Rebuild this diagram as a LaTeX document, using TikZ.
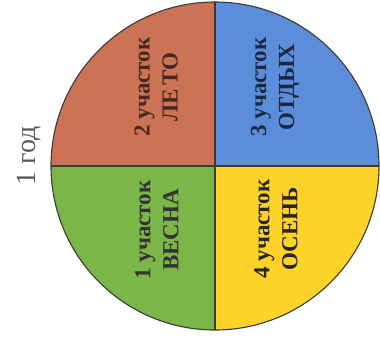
\documentclass[tikz,border=0pt]{standalone}
\usepackage{fontspec}
\setmainfont{Liberation Serif}
\definecolor{qred}{HTML}{CC7355}
\definecolor{qblue}{HTML}{5B8DDB}
\definecolor{qgreen}{HTML}{7AB648}
\definecolor{qyellow}{HTML}{FDD32A}
\definecolor{edge}{HTML}{3A3A36}
\begin{document}
\begin{tikzpicture}[x=1pt,y=-1pt,
  quad/.style={draw=edge,line width=1.1pt},
  qlabel/.style={rotate=90,align=center,font=\fontsize{23}{28}\selectfont\bfseries,inner sep=0pt}]
\useasboundingbox (0,0) rectangle (380,340);
\coordinate (c) at (215,166);
\fill[qred] (c) -- (51,166) arc[start angle=180,end angle=270,radius=164] -- cycle;
\fill[qblue] (c) -- (215,2) arc[start angle=270,end angle=360,radius=164] -- cycle;
\fill[qgreen] (c) -- (51,166) arc[start angle=180,end angle=90,radius=164] -- cycle;
\fill[qyellow] (c) -- (379,166) arc[start angle=0,end angle=90,radius=164] -- cycle;
\draw[quad] (c) circle[radius=164];
\draw[quad] (51,166) -- (379,166);
\draw[quad] (215,2) -- (215,330);
\node[qlabel,text=black!65!qred] (t2) at (156,87) {2 участок\\ЛЕ\kern3ptТО};
\node[qlabel,text=black!70!qblue] (t3) at (275,87) {3 участок\\ОТДЫХ};
\node[qlabel,text=black!80] (t1) at (157,230) {1 участок\\ВЕСНА};
\node[qlabel,text=black!85] (t4) at (276,229) {4 участок\\ОСЕНЬ};
\node[rotate=90,font=\fontsize{28}{32}\selectfont,text=black!65,inner sep=0pt] (god) at (29,156) {1 год};
\end{tikzpicture}
\end{document}
